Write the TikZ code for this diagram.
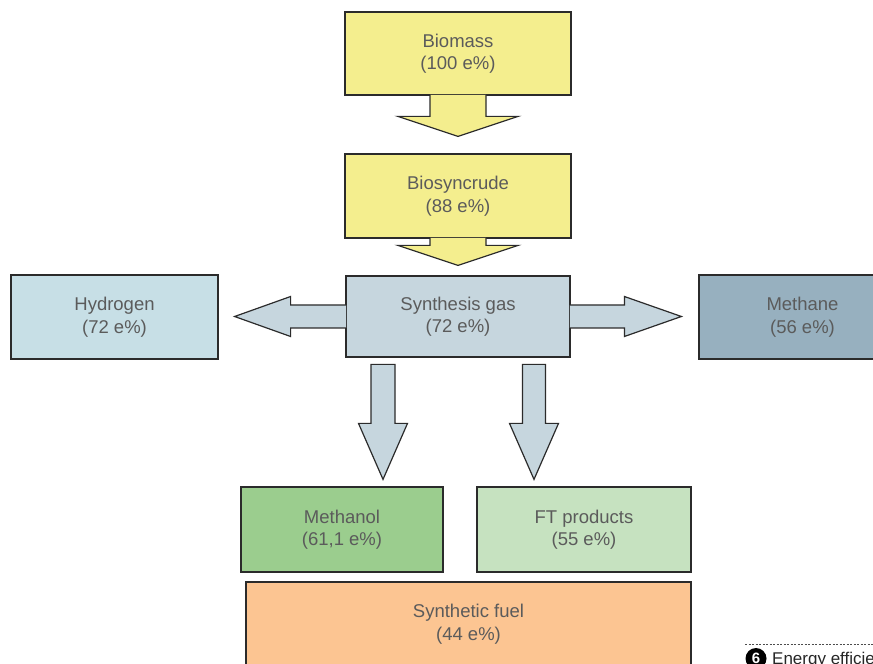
\documentclass[tikz,border=0pt]{standalone}
\usepackage{fontspec}
\setmainfont{Liberation Sans}
\usetikzlibrary{calc}

\definecolor{yellowbox}{HTML}{F4EE8E}
\definecolor{gasbox}{HTML}{C6D6DE}
\definecolor{hydrobox}{HTML}{C7DFE6}
\definecolor{methbox}{HTML}{97B0BF}
\definecolor{alcbox}{HTML}{9BCD8E}
\definecolor{ftbox}{HTML}{C6E2C0}
\definecolor{fuelbox}{HTML}{FCC592}
\definecolor{boxline}{HTML}{2B2B2B}
\definecolor{labeltext}{HTML}{5B5B5B}

\tikzset{
  box/.style={draw=boxline, line width=1.2pt, align=center, text=labeltext,
    font=\fontsize{18.5}{22.5}\selectfont, inner sep=0pt},
  blockarrow/.style={draw=boxline, line width=1.2pt, line join=miter}
}

\begin{document}
\begin{tikzpicture}[x=1pt, y=1pt]
    \useasboundingbox (0,0) rectangle (873,664);
    \clip (0,0) rectangle (873,664);

    % boxes
    \node[box, fill=yellowbox, minimum width=226pt, minimum height=83pt] (biomass) at (458,610.5) {Biomass\\(100 e\%)};
    \node[box, fill=yellowbox, minimum width=226pt, minimum height=84pt] (biosyncrude) at (458,468) {Biosyncrude\\(88 e\%)};
    \node[box, fill=gasbox, minimum width=224pt, minimum height=81pt] (syngas) at (458,347.5) {Synthesis gas\\(72 e\%)};
    \node[box, fill=hydrobox, minimum width=207pt, minimum height=84pt] (hydrogen) at (114.5,347) {Hydrogen\\(72 e\%)};
    \node[box, fill=methbox, minimum width=207pt, minimum height=84pt] (methane) at (802.5,347) {Methane\\(56 e\%)};
    \node[box, fill=alcbox, minimum width=202pt, minimum height=85pt] (methanol) at (342,134.5) {Methanol\\(61,1 e\%)};
    \node[box, fill=ftbox, minimum width=214pt, minimum height=85pt] (ftprod) at (584,134.5) {FT products\\(55 e\%)};
    \node[box, fill=fuelbox, minimum width=445pt, minimum height=84pt] (synfuel) at (468.5,40) {Synthetic fuel\\(44 e\%)};

    % arrow tips
    \coordinate (tip1) at ($(biosyncrude.north)+(0,17)$);
    \coordinate (tip6) at ($(syngas.north)+(0,10)$);
    \coordinate (tip2) at ($(syngas.west -| hydrogen.east)+(16,0)$);
    \coordinate (tip3) at ($(syngas.east -| methane.west)+(-17,0)$);
    \coordinate (tip4) at ($(methanol.north -| syngas.south)+(-75,7)$);
    \coordinate (tip5) at ($(ftprod.north -| syngas.south)+(76,7)$);

    % biomass to biosyncrude
    \draw[blockarrow, fill=yellowbox] ($(biomass.south)+(-28,0.7)$) -- ($(tip1)+(-28,20)$) -- ($(tip1)+(-60,20)$) -- (tip1)
        -- ($(tip1)+(60,20)$) -- ($(tip1)+(28,20)$) -- ($(biomass.south)+(28,0.7)$);
    % biosyncrude to synthesis gas
    \draw[blockarrow, fill=yellowbox] ($(biosyncrude.south)+(-28,0.7)$) -- ($(tip6)+(-28,20)$) -- ($(tip6)+(-60,20)$) -- (tip6)
        -- ($(tip6)+(60,20)$) -- ($(tip6)+(28,20)$) -- ($(biosyncrude.south)+(28,0.7)$);

    % synthesis gas to hydrogen and methane
    \draw[blockarrow, fill=gasbox] ($(syngas.west)+(0.7,11.5)$) -- ($(tip2)+(56,11.5)$) -- ($(tip2)+(56,20)$) -- (tip2)
        -- ($(tip2)+(56,-20)$) -- ($(tip2)+(56,-11.5)$) -- ($(syngas.west)+(0.7,-11.5)$);
    \draw[blockarrow, fill=gasbox] ($(syngas.east)+(-0.7,11.5)$) -- ($(tip3)+(-57,11.5)$) -- ($(tip3)+(-57,20)$) -- (tip3)
        -- ($(tip3)+(-57,-20)$) -- ($(tip3)+(-57,-11.5)$) -- ($(syngas.east)+(-0.7,-11.5)$);

    % synthesis gas to methanol and FT products
    \draw[blockarrow, fill=gasbox] ($(tip4)+(-12,115)$) -- ($(tip4)+(-12,56)$) -- ($(tip4)+(-24.5,56)$) -- (tip4)
        -- ($(tip4)+(24.5,56)$) -- ($(tip4)+(12,56)$) -- ($(tip4)+(12,115)$) -- cycle;
    \draw[blockarrow, fill=gasbox] ($(tip5)+(-11.5,115)$) -- ($(tip5)+(-11.5,56)$) -- ($(tip5)+(-24.5,56)$) -- (tip5)
        -- ($(tip5)+(24.5,56)$) -- ($(tip5)+(11.5,56)$) -- ($(tip5)+(11.5,115)$) -- cycle;

    % caption
    \draw[black!70, line width=0.6pt, dash pattern=on 2pt off 1.5pt] (745,20) -- (873,20);
    \node[circle, fill=black, text=white, minimum size=21pt, inner sep=0pt, font=\fontsize{15}{15}\selectfont\bfseries] (capnum) at (756,5.5) {6};
    \node[anchor=base west, inner sep=0pt, text=black!85, font=\fontsize{17}{20}\selectfont] (captext) at (772,-0.5) {Energy efficiency};
\end{tikzpicture}
\end{document}
